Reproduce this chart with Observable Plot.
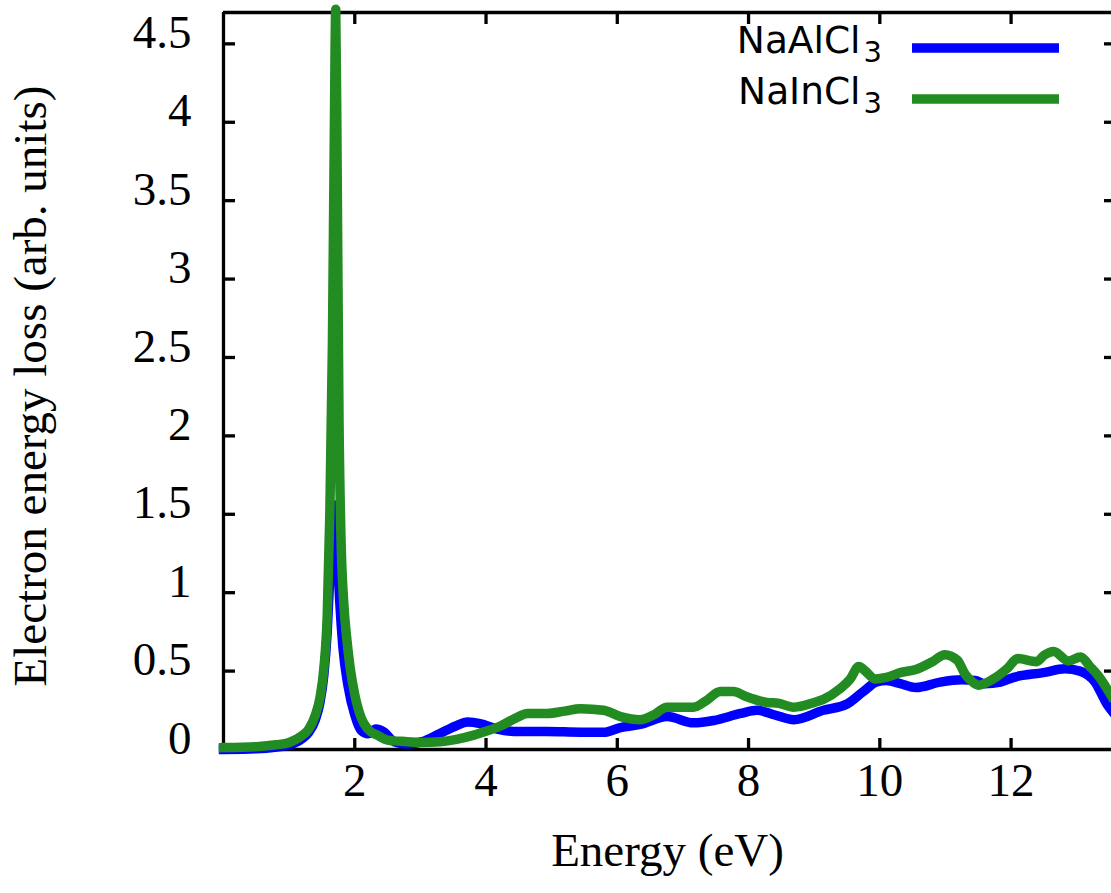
<!DOCTYPE html>
<html>
<head>
<meta charset="utf-8">
<script src="https://cdn.jsdelivr.net/npm/d3@7"></script>
<script src="https://cdn.jsdelivr.net/npm/@observablehq/plot@0.6"></script>
<style>
  body { margin: 0; background: #fff; }
  #chart { width: 1111px; height: 893px; }
</style>
</head>
<body>
<div id="chart"></div>
<script>
// Electron energy loss spectra of NaAlCl3 and NaInCl3 (energy in eV, loss in arb. units)
const alEnergy = [0, 0.5, 1.0, 1.2, 1.3, 1.4, 1.47, 1.53, 1.58, 1.63, 1.67, 1.70, 1.73, 1.77, 1.82, 1.9,
  2.0, 2.1, 2.2, 2.32, 2.45, 2.6, 2.8, 3.03, 3.29, 3.54, 3.72, 3.91, 4.17, 4.42, 4.93, 5.44, 5.79,
  6.05, 6.35, 6.76, 7.16, 7.47, 7.88, 8.13, 8.4, 8.69, 9.14, 9.5, 9.75, 9.95, 10.1, 10.31, 10.55,
  10.92, 11.25, 11.45, 11.6, 11.84, 12.04, 12.49, 12.82, 13.05, 13.28, 13.46, 13.53];
const alLoss = [0.0, 0.005, 0.03, 0.07, 0.11, 0.19, 0.3, 0.48, 0.75, 1.2, 1.5, 1.56, 1.3, 0.95, 0.65, 0.4,
  0.22, 0.12, 0.1, 0.13, 0.11, 0.05, 0.035, 0.05, 0.1, 0.15, 0.175, 0.165, 0.13, 0.115, 0.115, 0.11, 0.11,
  0.14, 0.16, 0.21, 0.17, 0.185, 0.23, 0.25, 0.22, 0.19, 0.25, 0.29, 0.37, 0.43, 0.44, 0.42, 0.395,
  0.43, 0.445, 0.44, 0.42, 0.43, 0.46, 0.49, 0.515, 0.50, 0.43, 0.29, 0.25];

const inEnergy = [0, 0.5, 0.8, 1.0, 1.2, 1.3, 1.4, 1.47, 1.53, 1.58, 1.62, 1.66, 1.69, 1.71, 1.73, 1.76,
  1.79, 1.83, 1.88, 1.93, 2.0, 2.1, 2.2, 2.35, 2.5, 2.8, 3.0, 3.3, 3.55, 3.8, 3.95, 4.22, 4.45, 4.63,
  4.93, 5.2, 5.44, 5.79, 6.05, 6.35, 6.55, 6.76, 7.16, 7.35, 7.57, 7.77, 7.95, 8.28, 8.45, 8.69, 9.0,
  9.14, 9.4, 9.55, 9.68, 9.78, 9.93, 10.1, 10.31, 10.55, 10.8, 10.99, 11.18, 11.3, 11.43, 11.5, 11.73,
  11.95, 12.1, 12.39, 12.5, 12.65, 12.87, 13.06, 13.2, 13.33, 13.53];
const inLoss = [0.012, 0.018, 0.03, 0.045, 0.09, 0.13, 0.22, 0.33, 0.52, 0.85, 1.5, 2.6, 4.0, 4.72, 3.8, 2.1,
  1.35, 0.95, 0.7, 0.52, 0.35, 0.2, 0.13, 0.09, 0.06, 0.05, 0.045, 0.05, 0.065, 0.09, 0.11, 0.15, 0.2, 0.23,
  0.23, 0.245, 0.26, 0.25, 0.21, 0.19, 0.22, 0.27, 0.27, 0.31, 0.37, 0.37, 0.34, 0.30, 0.295, 0.27, 0.3,
  0.32, 0.39, 0.45, 0.53, 0.50, 0.45, 0.46, 0.49, 0.51, 0.56, 0.605, 0.57, 0.48, 0.425, 0.41, 0.45,
  0.52, 0.58, 0.56, 0.60, 0.625, 0.565, 0.59, 0.53, 0.47, 0.34];

const seriesNames = ["NaAlCl", "NaInCl"];
const seriesSubscripts = ["3", "3"];
const seriesColors = ["#0000ff", "#228b22"];

const xTicks = [2, 4, 6, 8, 10, 12];
const yTicks = [0, 0.5, 1, 1.5, 2, 2.5, 3, 3.5, 4, 4.5];
const yTickLabels = ["0", "0.5", "1", "1.5", "2", "2.5", "3", "3.5", "4", "4.5"];
const xTitle = "Energy (eV)";
const yTitle = "Electron energy loss (arb. units)";

const alData = alEnergy.map((e, i) => ({energy: e, loss: alLoss[i]}));
const inData = inEnergy.map((e, i) => ({energy: e, loss: inLoss[i]}));

const serif = "'Liberation Serif', 'Times New Roman', serif";
const axisStroke = {stroke: "#000", strokeWidth: 3.3};
const lineStyle = {x: "energy", y: "loss", strokeWidth: 9.5, curve: "monotone-x",
  strokeLinejoin: "round", strokeLinecap: "square"};

const svg = Plot.plot({
  width: 1111,
  height: 893,
  marginLeft: 223,
  marginRight: 0,
  marginTop: 12,
  marginBottom: 144,
  x: {domain: [0, 13.53]},
  y: {domain: [0, 4.7]},
  style: {
    fontFamily: serif,
    fontSize: "47px",
    background: "#fff",
    color: "#000"
  },
  marks: [
    // border: left, bottom, top
    Plot.ruleX([0], axisStroke),
    Plot.ruleY([0], axisStroke),
    Plot.ruleY([4.7], axisStroke),
    // inward tick marks on all four sides
    Plot.axisX(xTicks, {anchor: "bottom", tickSize: 11, dy: -11, tickFormat: () => "", label: null, strokeWidth: 3.3}),
    Plot.axisX(xTicks, {anchor: "top", tickSize: 11, dy: 11, tickFormat: () => "", label: null, strokeWidth: 3.3}),
    Plot.axisY(yTicks.slice(1), {anchor: "left", tickSize: 12, dx: 12, tickFormat: () => "", label: null, strokeWidth: 3.3}),
    Plot.axisY(yTicks.slice(1), {anchor: "right", tickSize: 8, dx: -8, tickFormat: () => "", label: null, strokeWidth: 3.3}),
    // tick labels
    Plot.axisX(xTicks, {anchor: "bottom", tickSize: 0, tickPadding: 13, tickFormat: d => String(d),
      label: null, fontFamily: serif}),
    Plot.axisY(yTicks, {anchor: "left", tickSize: 0, tickPadding: 32, dy: -11,
      tickFormat: (d, i) => yTickLabels[i], label: null, fontFamily: serif}),
    // spectra
    Plot.line(alData, {...lineStyle, stroke: seriesColors[0]}),
    Plot.line(inData, {...lineStyle, stroke: seriesColors[1]}),
    // axis titles
    Plot.text([xTitle], {frameAnchor: "bottom", dy: 101, lineAnchor: "middle", textAnchor: "middle",
      fill: "#000", fontFamily: serif, fontSize: 47}),
    Plot.text([yTitle], {frameAnchor: "left", rotate: -90, dx: -193, dy: 5, lineAnchor: "middle",
      textAnchor: "middle", fill: "#000", fontFamily: serif, fontSize: 47})
  ]
});

// key in the upper right corner
const key = d3.select(svg).append("g")
  .attr("font-family", "'DejaVu Sans', sans-serif")
  .attr("font-size", 37.5)
  .attr("fill", "#000");
seriesNames.forEach((name, i) => {
  const base = 53 + i * 51;
  const t = key.append("text").attr("x", 882).attr("y", base).attr("text-anchor", "end");
  t.append("tspan").text(name);
  t.append("tspan").attr("font-size", 29).attr("dx", 3).attr("dy", 9).text(seriesSubscripts[i]);
  key.append("line")
    .attr("x1", 912).attr("x2", 1059)
    .attr("y1", base - 5).attr("y2", base - 5)
    .attr("stroke", seriesColors[i]).attr("stroke-width", 9.5);
});

document.getElementById("chart").appendChild(svg);
</script>
</body>
</html>
